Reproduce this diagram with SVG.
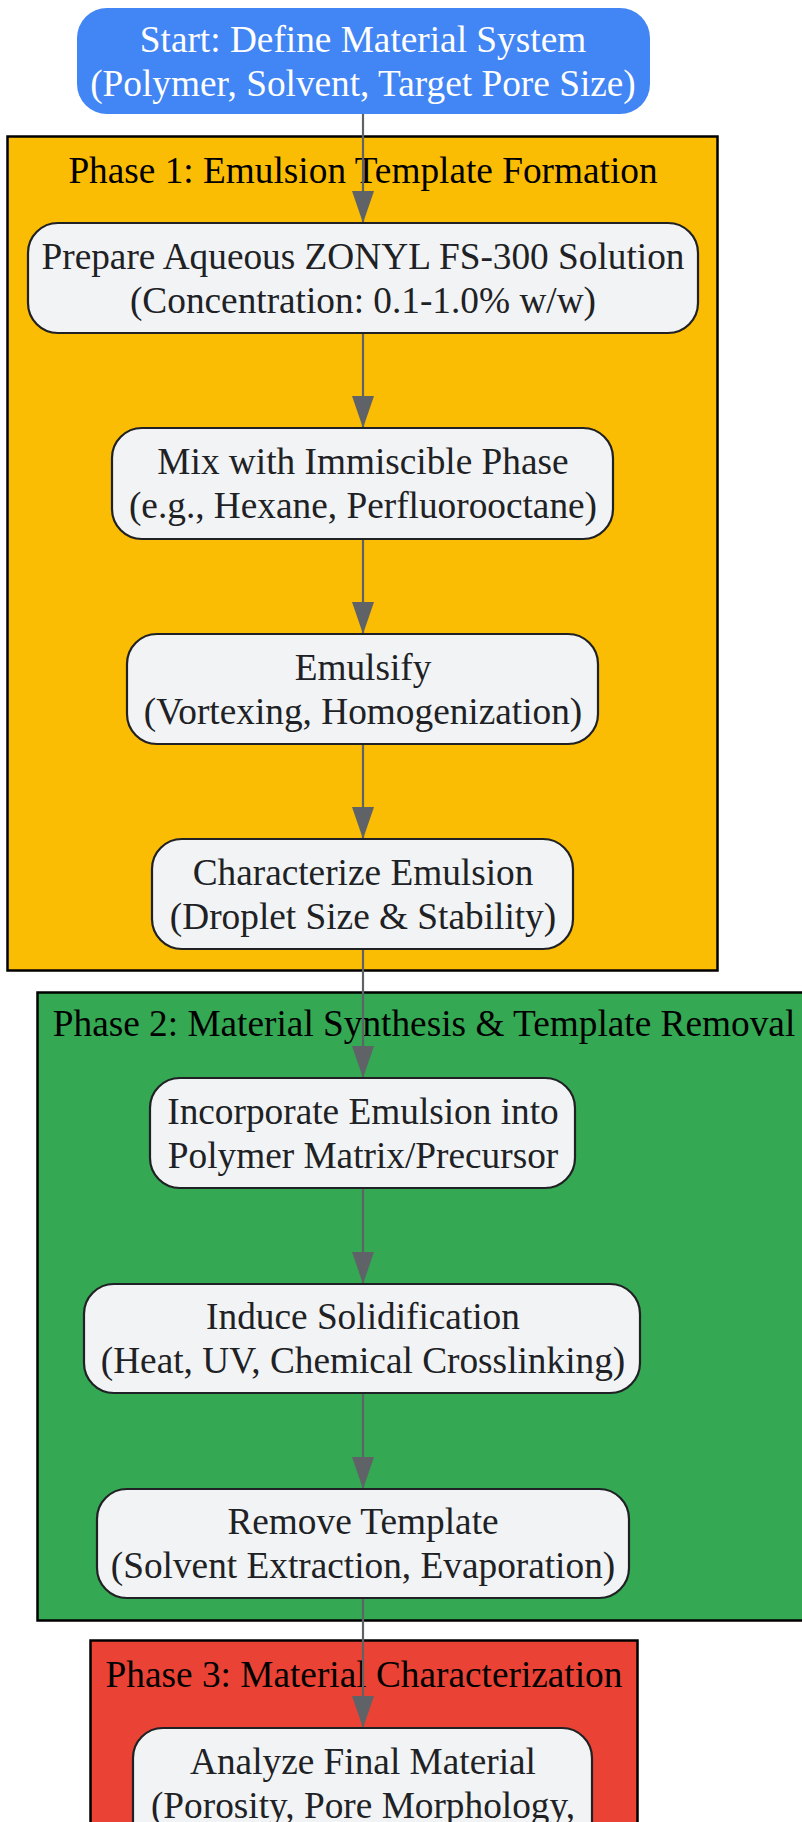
<svg xmlns="http://www.w3.org/2000/svg" width="802" height="1822" viewBox="0 0 802 1822">
<style>
text{font-family:"Liberation Serif","Times New Roman",serif;font-size:37.3px;text-anchor:middle}
.cl{stroke:#000;stroke-width:2.5}
.title{fill:#000}
.node rect{fill:#F1F3F4;stroke:#202124;stroke-width:2.2}
.node text{fill:#202124}
.edge{stroke:#5F6368;stroke-width:2.2;fill:none;marker-end:url(#arr)}
</style>
<defs>
<marker id="arr" viewBox="0 0 32 22" refX="32" refY="11" markerWidth="32" markerHeight="22" markerUnits="userSpaceOnUse" orient="auto">
<path d="M0,0 L32,11 L0,22 z" fill="#5F6368"/>
</marker>
</defs>
<rect width="802" height="1822" fill="#fff"/>
<g id="phase1">
<rect class="cl" x="7.5" y="136.5" width="710" height="834" fill="#FBBC04"/>
<text class="title" x="363" y="183">Phase 1: Emulsion Template Formation</text>
</g>
<g id="phase2">
<rect class="cl" x="37.5" y="992.5" width="800" height="628" fill="#34A853"/>
<text class="title" x="424" y="1036">Phase 2: Material Synthesis &amp; Template Removal</text>
</g>
<g id="phase3">
<rect class="cl" x="90.5" y="1640.5" width="547" height="240" fill="#EA4335"/>
<text class="title" x="364" y="1687">Phase 3: Material Characterization</text>
</g>
<g id="edges">
<line class="edge" x1="363" y1="114" x2="363" y2="223"/>
<line class="edge" x1="363" y1="333" x2="363" y2="428"/>
<line class="edge" x1="363" y1="539" x2="363" y2="634"/>
<line class="edge" x1="363" y1="744" x2="363" y2="839"/>
<line class="edge" x1="363" y1="949" x2="363" y2="1078"/>
<line class="edge" x1="363" y1="1188" x2="363" y2="1284"/>
<line class="edge" x1="363" y1="1393" x2="363" y2="1489"/>
<line class="edge" x1="363" y1="1598" x2="363" y2="1728"/>
</g>
<g id="start">
<rect x="77" y="8" width="573" height="106" rx="30" fill="#4285F4"/>
<text x="363" y="52" fill="#fff">Start: Define Material System</text>
<text x="363" y="96" fill="#fff">(Polymer, Solvent, Target Pore Size)</text>
</g>
<g id="prepare" class="node">
<rect x="28" y="223" width="670" height="110" rx="30"/>
<text x="363" y="269">Prepare Aqueous ZONYL FS-300 Solution</text>
<text x="363" y="313">(Concentration: 0.1-1.0% w/w)</text>
</g>
<g id="mix" class="node">
<rect x="112" y="428" width="501" height="111" rx="30"/>
<text x="363" y="474">Mix with Immiscible Phase</text>
<text x="363" y="518">(e.g., Hexane, Perfluorooctane)</text>
</g>
<g id="emulsify" class="node">
<rect x="127" y="634" width="471" height="110" rx="30"/>
<text x="363" y="680">Emulsify</text>
<text x="363" y="724">(Vortexing, Homogenization)</text>
</g>
<g id="characterize" class="node">
<rect x="152" y="839" width="421" height="110" rx="30"/>
<text x="363" y="885">Characterize Emulsion</text>
<text x="363" y="929">(Droplet Size &amp; Stability)</text>
</g>
<g id="incorporate" class="node">
<rect x="150" y="1078" width="425" height="110" rx="30"/>
<text x="363" y="1124">Incorporate Emulsion into</text>
<text x="363" y="1168">Polymer Matrix/Precursor</text>
</g>
<g id="induce" class="node">
<rect x="84" y="1284" width="556" height="109" rx="30"/>
<text x="363" y="1329">Induce Solidification</text>
<text x="363" y="1373">(Heat, UV, Chemical Crosslinking)</text>
</g>
<g id="remove" class="node">
<rect x="97" y="1489" width="532" height="109" rx="30"/>
<text x="363" y="1534">Remove Template</text>
<text x="363" y="1578">(Solvent Extraction, Evaporation)</text>
</g>
<g id="analyze" class="node">
<rect x="133" y="1728" width="459" height="150" rx="30"/>
<text x="363" y="1774">Analyze Final Material</text>
<text x="363" y="1818">(Porosity, Pore Morphology,</text>
</g>
</svg>
